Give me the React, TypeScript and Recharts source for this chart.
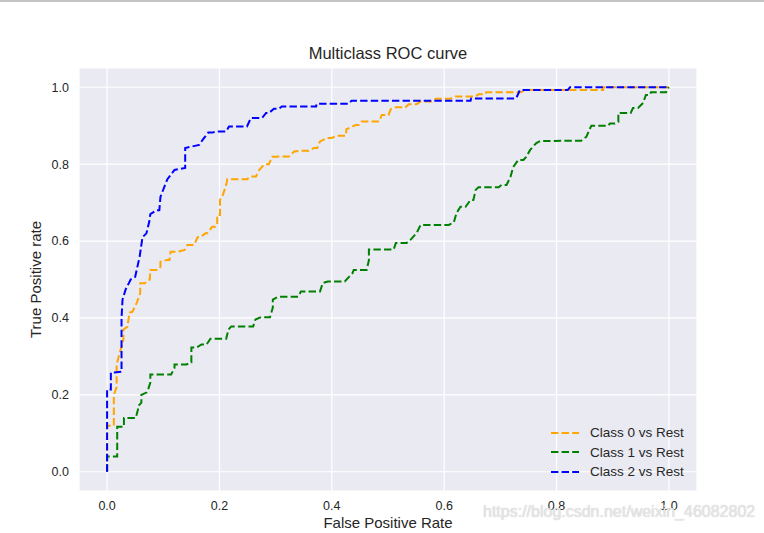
import { CartesianGrid, Line, LineChart, XAxis, YAxis } from "recharts";

// ROC points: [false positive rate, true positive rate]
const class0Points: [number, number][] = [
  [0, 0], [0, 0.07], [0, 0.12], [0.012, 0.12], [0.012, 0.2], [0.017, 0.22],
  [0.017, 0.28], [0.029, 0.343], [0.029, 0.37], [0.036, 0.377], [0.04, 0.414],
  [0.045, 0.416], [0.053, 0.44], [0.059, 0.465], [0.059, 0.49], [0.067, 0.49],
  [0.076, 0.5], [0.077, 0.525], [0.09, 0.525], [0.095, 0.533], [0.095, 0.546],
  [0.107, 0.551], [0.111, 0.551], [0.113, 0.572], [0.125, 0.572], [0.138, 0.577],
  [0.143, 0.59], [0.155, 0.59], [0.161, 0.61], [0.166, 0.61], [0.175, 0.62],
  [0.178, 0.62], [0.187, 0.637], [0.193, 0.637], [0.196, 0.642], [0.196, 0.668],
  [0.201, 0.668], [0.201, 0.708], [0.205, 0.715], [0.212, 0.746], [0.214, 0.761],
  [0.249, 0.761], [0.256, 0.768], [0.265, 0.768], [0.271, 0.785], [0.28, 0.8],
  [0.288, 0.8], [0.294, 0.819], [0.301, 0.819], [0.31, 0.82], [0.324, 0.82],
  [0.333, 0.833], [0.345, 0.835], [0.359, 0.835], [0.368, 0.842], [0.374, 0.842],
  [0.379, 0.859], [0.391, 0.868], [0.4, 0.868], [0.409, 0.874], [0.425, 0.874],
  [0.426, 0.891], [0.443, 0.902], [0.448, 0.902], [0.453, 0.911], [0.484, 0.911],
  [0.489, 0.928], [0.501, 0.928], [0.505, 0.943], [0.514, 0.948], [0.531, 0.948],
  [0.537, 0.956], [0.551, 0.956], [0.558, 0.963], [0.578, 0.963], [0.585, 0.97],
  [0.611, 0.97], [0.62, 0.976], [0.656, 0.976], [0.661, 0.982], [0.673, 0.982],
  [0.675, 0.987], [0.737, 0.987], [0.744, 0.993], [0.883, 0.993], [0.883, 1],
  [1, 1],
];

const class1Points: [number, number][] = [
  [0, 0], [0, 0.04], [0.018, 0.04], [0.018, 0.117], [0.03, 0.117], [0.03, 0.14],
  [0.051, 0.14], [0.055, 0.162], [0.055, 0.17], [0.061, 0.18], [0.061, 0.2],
  [0.07, 0.206], [0.073, 0.214], [0.077, 0.232], [0.077, 0.253], [0.114, 0.253],
  [0.12, 0.27], [0.12, 0.279], [0.141, 0.279], [0.15, 0.284], [0.15, 0.323],
  [0.159, 0.323], [0.168, 0.331], [0.177, 0.331], [0.184, 0.346], [0.212, 0.346],
  [0.216, 0.37], [0.221, 0.378], [0.26, 0.378], [0.264, 0.396], [0.274, 0.402],
  [0.29, 0.402], [0.295, 0.427], [0.295, 0.448], [0.304, 0.455], [0.34, 0.455],
  [0.343, 0.463], [0.345, 0.469], [0.379, 0.469], [0.384, 0.491], [0.393, 0.495],
  [0.423, 0.495], [0.437, 0.517], [0.439, 0.525], [0.462, 0.525], [0.466, 0.55],
  [0.466, 0.578], [0.51, 0.578], [0.514, 0.595], [0.533, 0.595], [0.54, 0.603],
  [0.551, 0.621], [0.558, 0.642], [0.608, 0.642], [0.617, 0.648], [0.622, 0.673],
  [0.629, 0.689], [0.638, 0.689], [0.647, 0.707], [0.652, 0.707], [0.656, 0.733],
  [0.661, 0.74], [0.697, 0.74], [0.702, 0.746], [0.711, 0.746], [0.718, 0.767],
  [0.723, 0.793], [0.732, 0.811], [0.741, 0.811], [0.746, 0.819], [0.753, 0.837],
  [0.758, 0.845], [0.764, 0.855], [0.771, 0.86], [0.844, 0.861], [0.853, 0.871],
  [0.86, 0.894], [0.862, 0.9], [0.892, 0.9], [0.895, 0.906], [0.904, 0.906],
  [0.91, 0.91], [0.91, 0.933], [0.932, 0.933], [0.936, 0.946], [0.945, 0.946],
  [0.954, 0.959], [0.959, 0.98], [0.966, 0.98], [0.968, 0.987], [0.995, 0.987],
  [1, 1],
];

const class2Points: [number, number][] = [
  [0, 0], [0, 0.214], [0.0067, 0.214], [0.0067, 0.258], [0.0128, 0.258],
  [0.0257, 0.26], [0.0257, 0.4], [0.0275, 0.448], [0.033, 0.474], [0.042, 0.5],
  [0.05, 0.507], [0.058, 0.56], [0.063, 0.61], [0.07, 0.62], [0.075, 0.65],
  [0.077, 0.67], [0.088, 0.68], [0.093, 0.68], [0.095, 0.715], [0.107, 0.76],
  [0.12, 0.785], [0.139, 0.79], [0.139, 0.842], [0.164, 0.85], [0.17, 0.863],
  [0.18, 0.882], [0.187, 0.882], [0.196, 0.885], [0.212, 0.885], [0.217, 0.898],
  [0.249, 0.898], [0.256, 0.92], [0.276, 0.92], [0.283, 0.933], [0.288, 0.933],
  [0.297, 0.944], [0.306, 0.944], [0.311, 0.95], [0.372, 0.95], [0.373, 0.957],
  [0.43, 0.957], [0.435, 0.965], [0.647, 0.965], [0.648, 0.971], [0.728, 0.971],
  [0.735, 0.993], [0.82, 0.993], [0.824, 1], [1, 1],
];

const ticks = [0, 0.2, 0.4, 0.6, 0.8, 1.0];

const series = [
  { name: "Class 0 vs Rest", color: "#FFA500", points: class0Points },
  { name: "Class 1 vs Rest", color: "#008000", points: class1Points },
  { name: "Class 2 vs Rest", color: "#0000FF", points: class2Points },
];

const FONT = '"Liberation Sans", Arial, sans-serif';
const TEXT = "#262626";
const DASH = "7.4 3.2";

function RocLegend() {
  return (
    <div style={{ position: "absolute", left: 550, top: 423, fontFamily: FONT, fontSize: 13.5, color: TEXT }}>
      {series.map((s) => (
        <div key={s.name} style={{ display: "flex", alignItems: "center", height: 19.5 }}>
          <svg width={30} height={6} style={{ marginRight: 10 }}>
            <line x1={1} y1={3} x2={29} y2={3} stroke={s.color} strokeWidth={2} strokeDasharray={DASH} />
          </svg>
          <span>{s.name}</span>
        </div>
      ))}
    </div>
  );
}

function YLabel(props: any) {
  const { viewBox } = props;
  const x = viewBox.x - 4;
  const y = viewBox.y + viewBox.height / 2;
  return (
    <text x={x} y={y} transform={`rotate(-90 ${x} ${y})`} textAnchor="middle" dominantBaseline="central" fill={TEXT} fontSize={15} fontFamily={FONT}>
      True Positive rate
    </text>
  );
}

export default function App() {
  return (
    <div style={{ position: "absolute", left: 0, top: 0, width: 764, height: 533, background: "#fff" }}>
      <div style={{ position: "absolute", left: 0, top: 0, width: 764, height: 2, background: "#c4c4c4" }} />
      <div style={{ position: "absolute", left: 79, width: 618, top: 44, textAlign: "center", fontFamily: FONT, fontSize: 16.5, color: TEXT }}>
        Multiclass ROC curve
      </div>
      <LineChart width={764} height={533} margin={{ top: 68, right: 67, bottom: 22, left: 39 }}>
        <CartesianGrid fill="#EAEAF2" stroke="#ffffff" strokeWidth={1.2} />
        <XAxis
          type="number"
          dataKey="fpr"
          domain={[-0.05, 1.05]}
          ticks={ticks}
          tickFormatter={(v: number) => v.toFixed(1)}
          axisLine={false}
          tickLine={false}
          tickMargin={4}
          height={20}
          tick={{ fontSize: 12.5, fill: TEXT, fontFamily: FONT }}
          label={{ value: "False Positive Rate", position: "bottom", offset: 6, fontSize: 15, fill: TEXT, fontFamily: FONT }}
          allowDataOverflow
        />
        <YAxis
          type="number"
          dataKey="tpr"
          domain={[-0.05, 1.05]}
          ticks={ticks}
          tickFormatter={(v: number) => v.toFixed(1)}
          axisLine={false}
          tickLine={false}
          tickMargin={4}
          width={40}
          tick={{ fontSize: 12.5, fill: TEXT, fontFamily: FONT }}
          label={<YLabel />}
          allowDataOverflow
        />
        {series.map((s) => (
          <Line
            key={s.name}
            data={s.points.map(([fpr, tpr]) => ({ fpr, tpr }))}
            dataKey="tpr"
            name={s.name}
            type="linear"
            stroke={s.color}
            strokeWidth={2}
            strokeDasharray={DASH}
            dot={false}
            isAnimationActive={false}
          />
        ))}
      </LineChart>
      <RocLegend />
      <div style={{ position: "absolute", left: 483, top: 503, fontFamily: FONT, fontSize: 16, color: "rgba(235,235,235,0.9)", textShadow: "0 0 1px #bbb", whiteSpace: "nowrap" }}>
        https://blog.csdn.net/weixin_46082802
      </div>
    </div>
  );
}
